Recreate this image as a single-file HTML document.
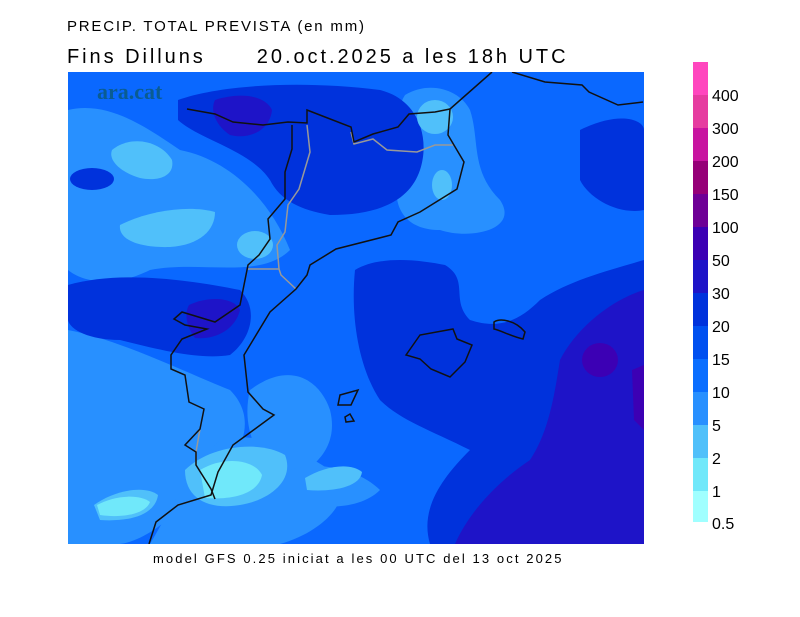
<!DOCTYPE html>
<html><head><meta charset="utf-8"><style>
body{margin:0;background:#fff;width:800px;height:617px;overflow:hidden;position:relative;font-family:"Liberation Sans","DejaVu Sans",sans-serif}
.t{position:absolute;color:#000;white-space:pre}
</style></head><body>
<div class="t" style="left:67px;top:18px;font-size:15px;letter-spacing:1.8px">PRECIP. TOTAL PREVISTA (en mm)</div>
<div class="t" style="left:67px;top:46px;font-size:20px;letter-spacing:2.95px">Fins Dilluns      20.oct.2025 a les 18h UTC</div>
<div class="t" style="left:153px;top:551px;font-size:13px;letter-spacing:2.1px">model GFS 0.25 iniciat a les 00 UTC del 13 oct 2025</div>
<svg style="position:absolute;left:0;top:0" width="800" height="617">
<defs><clipPath id="c"><rect x="68" y="72" width="576" height="472"/></clipPath></defs>
<g clip-path="url(#c)">
<rect x="68" y="72" width="576" height="472" fill="#0a68ff"/>
<g stroke-linejoin="round">
<path d="M68,110 C110,100 150,130 180,150 C230,160 270,200 290,250 C260,280 200,260 150,270 C110,290 80,280 68,270Z" fill="#2890ff"/>
<path d="M68,330 C120,340 180,370 230,390 C260,420 240,460 210,480 C180,510 150,540 120,544 L68,544Z" fill="#2890ff"/>
<path d="M250,390 C290,360 320,380 330,410 C340,450 310,470 290,480 C260,470 240,430 250,390Z" fill="#2890ff"/>
<path d="M405,95 C430,80 460,90 470,110 C480,140 470,170 500,200 C520,230 470,240 440,230 C400,230 390,200 400,170 C395,140 395,110 405,95Z" fill="#2890ff"/>
<path d="M220,440 C260,430 300,450 330,470 C360,490 330,530 280,544 L150,544 C170,510 190,470 220,440Z" fill="#2890ff"/>
<path d="M290,470 C320,460 360,470 380,490 C360,510 320,510 290,500Z" fill="#2890ff"/>
<path d="M178,100 C220,85 300,80 380,90 C420,100 430,140 420,170 C410,200 380,215 330,215 C300,210 280,200 270,180 C250,150 200,140 178,120Z" fill="#0032dc"/>
<path d="M355,270 C380,255 420,260 445,265 C470,280 450,300 470,320 C500,330 520,320 540,300 C570,280 610,270 644,260 L644,544 L430,544 C420,510 440,480 470,450 C430,430 400,420 380,400 C360,370 350,320 355,270Z" fill="#0032dc"/>
<path d="M68,285 C120,270 190,280 240,290 C260,310 250,340 230,355 C200,360 160,350 120,340 C90,340 70,330 68,320Z" fill="#0032dc"/>
<path d="M580,130 C620,110 644,120 644,130 L644,210 C620,215 590,200 580,180Z" fill="#0032dc"/>
<ellipse cx="92" cy="179" rx="22" ry="11" fill="#0032dc"/>
<path d="M455,544 C470,510 500,480 530,460 C550,430 555,390 560,360 C575,330 610,300 644,290 L644,544Z" fill="#1e14c8"/>
<path d="M215,100 C240,92 265,95 272,110 C270,130 250,140 230,135 C215,125 210,110 215,100Z" fill="#1e14c8"/>
<path d="M189,305 C210,295 235,298 240,310 C235,330 215,340 195,338 C185,325 185,312 189,305Z" fill="#1e14c8"/>
<ellipse cx="600" cy="360" rx="18" ry="17" fill="#3c00b4"/>
<path d="M632,370 L644,365 L644,430 L634,420Z" fill="#3c00b4"/>
<path d="M112,150 C130,135 160,140 172,160 C175,175 160,182 140,178 C120,172 108,160 112,150Z" fill="#50c0fa"/>
<path d="M120,225 C150,210 190,205 215,212 C215,230 200,245 170,247 C140,248 118,240 120,225Z" fill="#50c0fa"/>
<ellipse cx="255" cy="245" rx="18" ry="14" fill="#50c0fa"/>
<ellipse cx="435" cy="117" rx="18" ry="17" fill="#50c0fa"/>
<ellipse cx="442" cy="185" rx="10" ry="15" fill="#50c0fa"/>
<path d="M185,470 C210,445 260,440 285,455 C295,480 270,500 240,505 C210,510 185,500 185,470Z" fill="#50c0fa"/>
<path d="M94,505 C115,490 145,485 158,495 C155,515 130,522 100,520Z" fill="#50c0fa"/>
<path d="M305,478 C325,466 350,462 362,472 C360,488 330,492 307,490Z" fill="#50c0fa"/>
<path d="M200,470 C225,455 255,460 262,475 C258,495 230,500 205,498Z" fill="#70e8fa"/>
<path d="M97,505 C115,495 140,494 150,502 C145,515 120,518 100,515Z" fill="#70e8fa"/>
</g>
<g fill="none" stroke="#999" stroke-width="1.5">
<path d="M307,125 L310,152 L299,189 L288,205 L285,232 L277,245 L279,269 L248,269 M279,269 L281,275 L296,289"/>
<path d="M351,132 L354,144 L373,139 L387,150 L417,152 L435,145 L453,145"/>
<path d="M200,429 L196,452 L196,465"/>
</g>
<g fill="none" stroke="#111" stroke-width="1.5">
<path d="M492,72 L450,109 L448,135 L464,162 L457,189 L420,212 L398,222 L391,235 L336,249 L310,265 L307,275 L296,289 L270,312 L244,355 L248,392 L263,409 L274,415 L233,445 L218,472 L211,495 L178,505 L156,522 L149,544"/>
<path d="M512,72 L545,82 L582,85 L589,92 L618,105 L643,102"/>
<path d="M187,109 L215,114 L233,122 L263,125 L288,122 L307,123 L307,110 L325,117 L351,127 L354,142 L373,134 L398,127 L409,114 L435,112 L450,109"/>
<path d="M292,125 L292,149 L285,172 L285,199 L268,219 L270,239 L259,255 L248,265 L244,285 L240,305 L215,322 L182,312 L174,319 L185,325 L207,329 L182,339 L171,355 L171,369 L185,375 L189,402 L204,409 L200,429 L185,445 L196,452 L196,465 L211,489 L215,499"/>
<path d="M406,355 L420,335 L453,329 L457,339 L472,345 L465,362 L450,377 L431,369 L420,359Z"/>
<path d="M494,322 C500,318 515,320 525,332 L523,339 C510,336 500,330 494,329Z"/>
<path d="M340,395 L358,390 L351,405 L338,405Z"/>
<path d="M345,417 L350,414 L354,421 L346,422Z"/>
</g>
<text x="97" y="99" font-family="Liberation Serif,serif" font-weight="bold" font-size="22" fill="#0a5a78" opacity="0.8">ara.cat</text>
</g>
<g>
<rect x="693" y="62" width="15" height="33" fill="#ff46be"/>
<rect x="693" y="95" width="15" height="33" fill="#e63ca0"/>
<rect x="693" y="128" width="15" height="33" fill="#c814a0"/>
<rect x="693" y="161" width="15" height="33" fill="#960078"/>
<rect x="693" y="194" width="15" height="33" fill="#6e0096"/>
<rect x="693" y="227" width="15" height="33" fill="#3c00b4"/>
<rect x="693" y="260" width="15" height="33" fill="#1e14c8"/>
<rect x="693" y="293" width="15" height="33" fill="#0032dc"/>
<rect x="693" y="326" width="15" height="33" fill="#0050f0"/>
<rect x="693" y="359" width="15" height="33" fill="#0a6eff"/>
<rect x="693" y="392" width="15" height="33" fill="#2890ff"/>
<rect x="693" y="425" width="15" height="33" fill="#50c0fa"/>
<rect x="693" y="458" width="15" height="33" fill="#70e8fa"/>
<rect x="693" y="491" width="15" height="31" fill="#a0ffff"/>
</g>
<g font-size="16" fill="#000" font-family="Liberation Sans,sans-serif">
<text x="712" y="101">400</text><text x="712" y="134">300</text><text x="712" y="167">200</text>
<text x="712" y="200">150</text><text x="712" y="233">100</text><text x="712" y="266">50</text>
<text x="712" y="299">30</text><text x="712" y="332">20</text><text x="712" y="365">15</text>
<text x="712" y="398">10</text><text x="712" y="431">5</text><text x="712" y="464">2</text>
<text x="712" y="497">1</text><text x="712" y="529">0.5</text>
</g>
</svg>
</body></html>
